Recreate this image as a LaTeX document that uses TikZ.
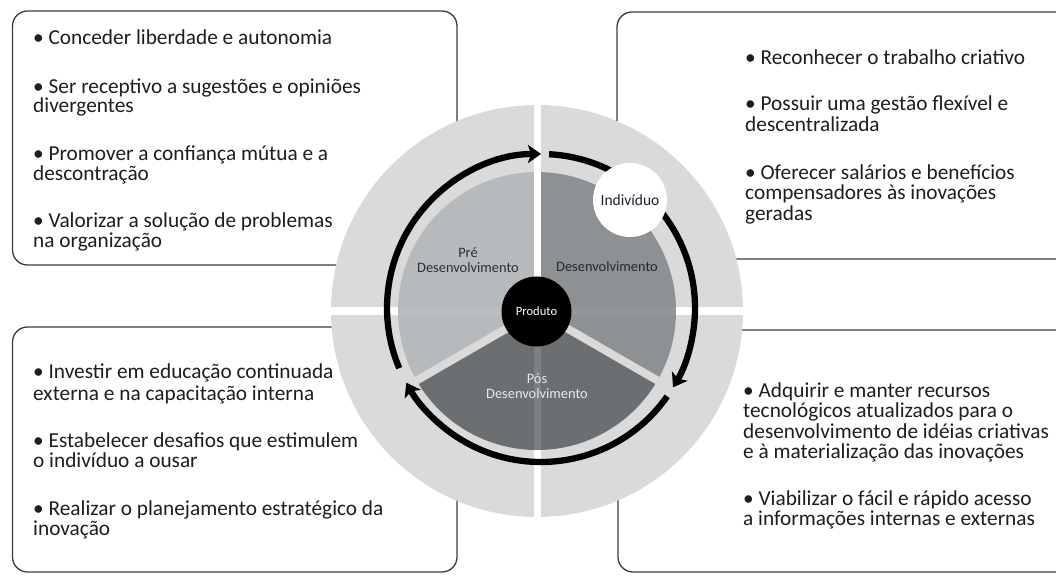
\documentclass[tikz,border=0pt]{standalone}
\usepackage{fontspec}
\setmainfont{Carlito}
\usetikzlibrary{arrows.meta,calc}
\definecolor{ringgray}{RGB}{218,218,218}
\definecolor{pregray}{RGB}{183,186,188}
\definecolor{desgray}{RGB}{142,145,147}
\definecolor{posgray}{RGB}{108,111,113}
\definecolor{boxline}{RGB}{60,60,60}
\definecolor{txt}{RGB}{30,30,30}
\newcommand\fsz[2]{\fontsize{#1}{#2}\selectfont}
\tikzset{
  infobox/.style={draw=boxline, line width=1.3pt, fill=white, rounded corners=15pt},
  boxtext/.style={anchor=base west, inner sep=0pt, text=txt, font=\fsz{21.3}{20}},
  arrowring/.style={line width=6.3pt, -{Stealth[length=13pt,width=18pt,inset=3pt]}},
  sectorlabel/.style={align=center, inner sep=0pt, font=\fsz{14.4}{14.5}},
}
\begin{document}
\begin{tikzpicture}[x=1pt,y=1pt]
\useasboundingbox (0,0) rectangle (1056,576);
% boxes
\draw[infobox] (12.5,311) rectangle (457,565);
\draw[infobox] (617,317) rectangle (1075,564);
\draw[infobox] (12.5,4) rectangle (457,249);
\draw[infobox] (618,4) rectangle (1075,246);
% top-left text
\node[boxtext] (tl1) at (33,531.5) {• Conceder liberdade e autonomia};
\node[boxtext] (tl2) at (33,482.5) {• Ser receptivo a sugestões e opiniões};
\node[boxtext] (tl3) at (33,463) {divergentes};
\node[boxtext] (tl4) at (33,415.5) {• Promover a confiança mútua e a};
\node[boxtext] (tl5) at (33,395.5) {descontração};
\node[boxtext] (tl6) at (33,348) {• Valorizar a solução de problemas};
\node[boxtext] (tl7) at (33,328.5) {na organização};
% top-right text
\node[boxtext] (tr1) at (745,511.5) {• Reconhecer o trabalho criativo};
\node[boxtext] (tr2) at (745,465) {• Possuir uma gestão flexível e};
\node[boxtext] (tr3) at (745,444.5) {descentralizada};
\node[boxtext] (tr4) at (745,396.5) {• Oferecer salários e benefícios};
\node[boxtext] (tr5) at (745,376) {compensadores às inovações};
\node[boxtext] (tr6) at (745,355.5) {geradas};
% bottom-left text
\node[boxtext] (bl1) at (33,198) {• Investir em educação continuada};
\node[boxtext] (bl2) at (33,176) {externa e na capacitação interna};
\node[boxtext] (bl3) at (33,129) {• Estabelecer desafios que estimulem};
\node[boxtext] (bl4) at (33,108.5) {o indivíduo a ousar};
\node[boxtext] (bl5) at (33,61) {• Realizar o planejamento estratégico da};
\node[boxtext] (bl6) at (33,40.5) {inovação};
% bottom-right text
\node[boxtext] (br1) at (743,179) {• Adquirir e manter recursos};
\node[boxtext] (br2) at (743,158.5) {tecnológicos atualizados para o};
\node[boxtext] (br3) at (743,138) {desenvolvimento de idéias criativas};
\node[boxtext] (br4) at (743,117.5) {e à materialização das inovações};
\node[boxtext] (br5) at (743,71) {• Viabilizar o fácil e rápido acesso};
\node[boxtext] (br6) at (743,50.5) {a informações internas e externas};
% central circle
\coordinate (c) at (537,265);
\coordinate (ac) at (541,268);
\fill[ringgray] (c) circle[radius=206];
\fill[pregray] (c) -- ++(90:139) arc[start angle=90, end angle=210, radius=139] -- cycle;
\fill[desgray] (c) -- ++(-30:139) arc[start angle=-30, end angle=90, radius=139] -- cycle;
\fill[posgray] (c) -- ++(210:139) arc[start angle=210, end angle=330, radius=139] -- cycle;
\draw[ringgray, line width=8pt] (c) -- ++(210:140);
\draw[ringgray, line width=8pt] (c) -- ++(330:140);
% quadrant gaps
\draw[white, line width=7pt] (c) -- ++(0,207);
\draw[white, line width=7pt] ($(c)+(0,-139)$) -- ++(0,-68);
\draw[white, line width=8pt] ($(c)+(-139,0)$) -- ++(-68,0);
\draw[white, line width=8pt] ($(c)+(139,0)$) -- ++(68,0);
\draw[white, opacity=0.12, line width=7pt] (c) -- ++(0,-139);
\draw[white, opacity=0.06, line width=8pt] ($(c)+(-139,0)$) -- ++(278,0);
% cycle arrows
\draw[arrowring] (ac) ++(203:154) arc[start angle=203, end angle=90, radius=154];
\draw[arrowring] (ac) ++(87:154) arc[start angle=87, end angle=-31, radius=154];
\draw[arrowring] (ac) ++(-35:154) arc[start angle=-35, end angle=-151, radius=154];
% individual & product
\node[circle, fill=white, minimum size=74pt, inner sep=0pt, font=\fsz{15.5}{16}, text={rgb,255:red,30;green,32;blue,50}] (ind) at (630,376) {Indivíduo};
\node[circle, fill=black, minimum size=70pt, inner sep=0pt, font=\fsz{12.6}{13}, text=white] (prod) at (536.5,264.5) {Produto};
% sector labels
\node[sectorlabel, text={rgb,255:red,45;green,45;blue,50}] (pre) at (468,316) {Pré\\Desenvolvimento};
\node[sectorlabel, text={rgb,255:red,40;green,40;blue,45}] (des) at (607,309) {Desenvolvimento};
\node[sectorlabel, text={rgb,255:red,232;green,232;blue,232}] (pos) at (537,190) {Pós\\Desenvolvimento};
\end{tikzpicture}
\end{document}
